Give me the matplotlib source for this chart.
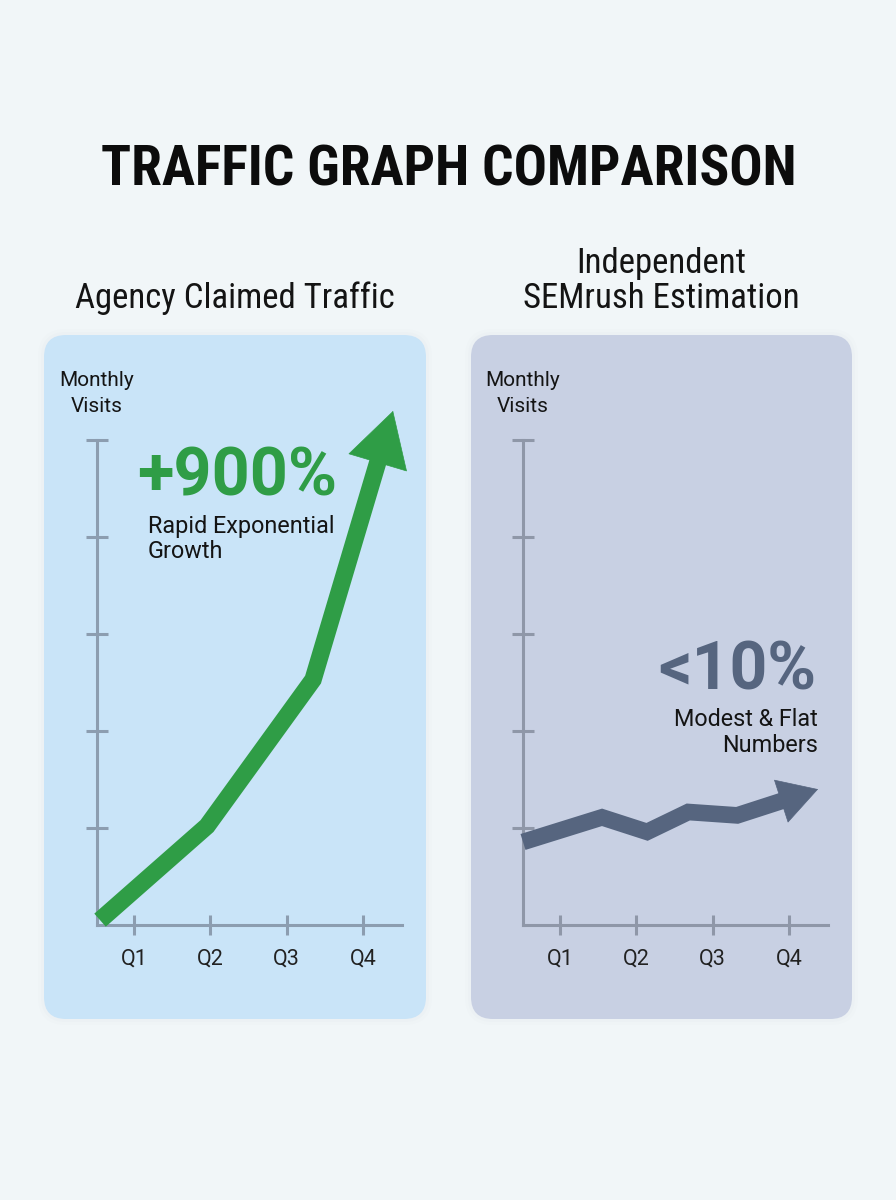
import matplotlib
matplotlib.use('Agg')
import matplotlib.pyplot as plt
from matplotlib.patches import FancyBboxPatch
import numpy as np

plt.rcParams['font.family'] = ['Roboto', 'DejaVu Sans']

# ---------------- data ----------------
title = "TRAFFIC GRAPH COMPARISON"
left_title = ["Agency Claimed Traffic"]
right_title = ["Independent", "SEMrush Estimation"]
quarters = ["Q1", "Q2", "Q3", "Q4"]
quarter_pos = [1, 2, 3, 4]
y_ticks = [1, 2, 3, 4, 5]
y_label = ["Monthly", "Visits"]
agency_x = [0.555, 1.956, 3.345, 4.393]
agency_y = [0.05, 1.02, 2.53, 5.30]
semrush_x = [0.515, 1.55, 2.14, 2.68, 3.32, 4.38]
semrush_y = [0.856, 1.11, 0.96, 1.165, 1.13, 1.40]
agency_label = "+900%"
agency_note = ["Rapid Exponential", "Growth"]
semrush_label = "<10%"
semrush_note = ["Modest & Flat", "Numbers"]

# ---------------- style ----------------
W, H = 896, 1200
BG = "#f1f6f8"
LEFT_PANEL = "#c9e4f8"
RIGHT_PANEL = "#c8d0e3"
GREEN = "#2f9d46"
SLATE = "#56657f"
AXIS_L = "#8c9db0"
AXIS_R = "#8f97a8"
TXT = "#141414"
COND = ["Roboto Condensed", "Liberation Sans Narrow", "Roboto", "DejaVu Sans"]

fig = plt.figure(figsize=(W / 100, H / 100), dpi=100)
fig.patch.set_facecolor(BG)


def fy(y_px):
    return 1 - y_px / H


def panel(x0, y0, x1, y1, color):
    # soft shadow
    for grow, a in [(6, 0.025), (3, 0.035)]:
        s = FancyBboxPatch(((x0 - grow) / 100, (H - y1 - grow) / 100),
                           (x1 - x0 + 2 * grow) / 100, (y1 - y0 + 2 * grow) / 100,
                           boxstyle=f"round,pad=0,rounding_size={0.22 + grow / 100}",
                           transform=fig.dpi_scale_trans, fc="#9fb3c4", ec="none",
                           alpha=a, zorder=0)
        fig.add_artist(s)
    p = FancyBboxPatch((x0 / 100, (H - y1) / 100), (x1 - x0) / 100, (y1 - y0) / 100,
                       boxstyle="round,pad=0,rounding_size=0.22",
                       transform=fig.dpi_scale_trans, fc=color, ec="none", zorder=0)
    fig.add_artist(p)


panel(44, 335, 426, 1019, LEFT_PANEL)
panel(471, 335, 852, 1019, RIGHT_PANEL)

# titles
fig.text(449 / W, fy(170), title, ha="center", va="center", fontsize=40,
         fontweight="bold", color="#0c0c0c", family=COND)
fig.text(235 / W, fy(298), left_title[0], ha="center", va="center", fontsize=25,
         color=TXT, family=COND)
for i, line in enumerate(right_title):
    fig.text(661 / W, fy(263 + 35 * i), line, ha="center", va="center", fontsize=25,
             color=TXT, family=COND)


def make_axes(x_axis_px, axis_color):
    ax = fig.add_axes([x_axis_px / W, fy(925), 305 / W, 520 / H])
    ax.set_facecolor("none")
    ax.set_xlim(0.515, 4.51)
    ax.set_ylim(0, 520 / 97)
    for s in ["top", "right"]:
        ax.spines[s].set_visible(False)
    for s in ["left", "bottom"]:
        ax.spines[s].set_color(axis_color)
        ax.spines[s].set_linewidth(2.2)
    ax.spines["left"].set_bounds(0, 5)
    ax.spines["bottom"].set_bounds(0.515, 4.51)
    ax.set_yticks(y_ticks)
    ax.set_yticklabels([])
    ax.set_xticks(quarter_pos)
    ax.set_xticklabels(quarters)
    ax.tick_params(axis="y", direction="inout", length=16, width=2.2, color=axis_color)
    ax.tick_params(axis="x", direction="inout", length=14, width=2.2, color=axis_color,
                   labelsize=15.5, labelcolor="#222222", pad=10)
    for i, line in enumerate(y_label):
        fig.text(x_axis_px / W, fy(381 + 25 * i), line, ha="center", va="center",
                 fontsize=15, color=TXT)
    return ax


def draw_arrow(ax, xs, ys, color, lw, head_len_px, head_hw_px):
    trans = ax.transData
    p_prev = trans.transform((xs[-2], ys[-2]))
    p_tip = trans.transform((xs[-1], ys[-1]))
    d = p_tip - p_prev
    d = d / np.hypot(*d)
    base = p_tip - d * head_len_px * 0.75
    bx, by = trans.inverted().transform(base)
    ax.plot(list(xs[:-1]) + [bx], list(ys[:-1]) + [by], color=color, lw=lw,
            solid_joinstyle="miter", solid_capstyle="butt", clip_on=False, zorder=3)
    hl = head_len_px * 0.72
    hw = head_hw_px * 0.72
    ax.annotate("", xy=(xs[-1], ys[-1]), xytext=(xs[-2], ys[-2]),
                arrowprops=dict(arrowstyle=f"-|>,head_length={hl},head_width={hw}",
                                mutation_scale=1, fc=color, ec=color, lw=0.5,
                                shrinkA=0, shrinkB=0),
                annotation_clip=False, zorder=3)


axL = make_axes(97, AXIS_L)
axR = make_axes(523, AXIS_R)
fig.canvas.draw()

draw_arrow(axL, agency_x, agency_y, GREEN, 12.5, 53, 30)
draw_arrow(axR, semrush_x, semrush_y, SLATE, 12, 38, 22)

# annotations
fig.text(137 / W, fy(477), agency_label, ha="left", va="center", fontsize=48,
         fontweight="bold", color=GREEN)
for i, line in enumerate(agency_note):
    fig.text(148 / W, fy(527 + 25 * i), line, ha="left", va="center", fontsize=16.8,
             color=TXT)
fig.text(816 / W, fy(671), semrush_label, ha="right", va="center", fontsize=47.5,
         fontweight="bold", color=SLATE)
for i, line in enumerate(semrush_note):
    fig.text(818 / W, fy(719 + 26 * i), line, ha="right", va="center", fontsize=16.8,
             color=TXT)

fig.savefig("out.png", dpi=100, facecolor=BG)
